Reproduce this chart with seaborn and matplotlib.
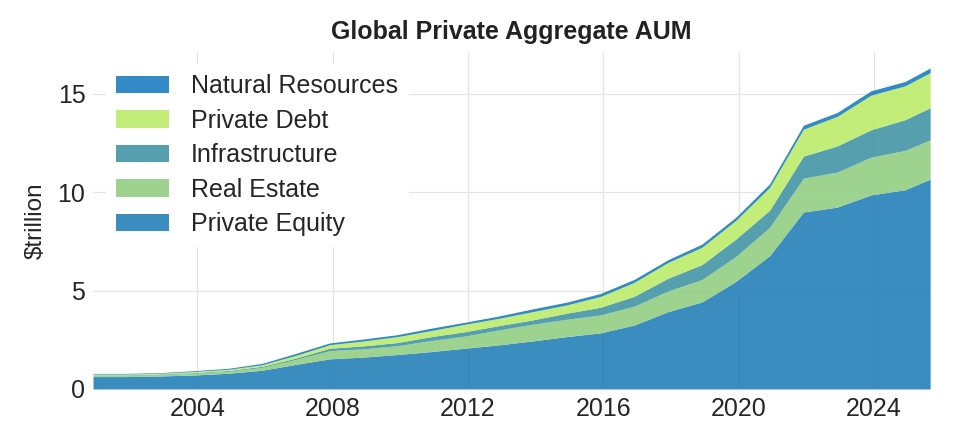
import pandas as pd
import seaborn as sns
import matplotlib.pyplot as plt
import matplotlib.dates as mdates

# year-end observations, last point is the latest (partial) year
years = list(range(2000, 2025))
last_date = "2025-08-31"

private_equity = [0.63, 0.63, 0.66, 0.71, 0.80, 0.95, 1.25, 1.53, 1.62, 1.75,
                  1.90, 2.07, 2.24, 2.44, 2.66, 2.85, 3.25, 3.93, 4.42, 5.46,
                  6.77, 8.99, 9.24, 9.86, 10.12, 10.66]
real_estate = [0.07, 0.07, 0.07, 0.09, 0.10, 0.15, 0.25, 0.42, 0.42, 0.45,
               0.56, 0.62, 0.76, 0.85, 0.88, 0.91, 0.96, 1.05, 1.14, 1.27,
               1.44, 1.72, 1.78, 1.92, 2.00, 2.00]
infrastructure = [0.02, 0.02, 0.03, 0.03, 0.04, 0.05, 0.07, 0.12, 0.15, 0.16,
                  0.20, 0.22, 0.22, 0.22, 0.31, 0.39, 0.50, 0.65, 0.76, 0.88,
                  0.87, 1.12, 1.33, 1.39, 1.56, 1.63]
private_debt = [0.04, 0.04, 0.04, 0.06, 0.06, 0.08, 0.14, 0.18, 0.25, 0.30,
                0.31, 0.38, 0.37, 0.42, 0.42, 0.55, 0.71, 0.80, 0.88, 0.95,
                1.16, 1.37, 1.50, 1.76, 1.72, 1.78]
natural_resources = [0.03, 0.03, 0.03, 0.04, 0.05, 0.07, 0.10, 0.09, 0.10, 0.10,
                     0.12, 0.10, 0.12, 0.14, 0.14, 0.15, 0.15, 0.14, 0.16, 0.16,
                     0.18, 0.20, 0.20, 0.22, 0.22, 0.24]

labels = ["Private Equity", "Real Estate", "Infrastructure", "Private Debt", "Natural Resources"]
colors = ["#2580b8", "#92cf83", "#4395a7", "#bdec6b", "#1c7dc0"]

dates = pd.to_datetime([f"{y}-12-01" for y in years] + [last_date])
df = pd.DataFrame({
    "Private Equity": private_equity,
    "Real Estate": real_estate,
    "Infrastructure": infrastructure,
    "Private Debt": private_debt,
    "Natural Resources": natural_resources,
}, index=dates)

sns.set_theme(style="whitegrid")
plt.rcParams["font.family"] = ["Liberation Sans", "DejaVu Sans"]
plt.rcParams["grid.color"] = "#e4e4e4"
plt.rcParams["grid.linewidth"] = 0.9

fig, ax = plt.subplots(figsize=(9.54, 4.4), dpi=100)
fig.subplots_adjust(left=0.0975, right=0.975, bottom=0.116, top=0.882)

ax.stackplot(df.index, [df[c] for c in labels], labels=labels,
             colors=colors, alpha=0.9, linewidth=0)
ax.margins(x=0)
ax.set_ylim(0, None)

ax.xaxis.set_major_locator(mdates.YearLocator(4))
ax.xaxis.set_major_formatter(mdates.DateFormatter("%Y"))
ax.tick_params(axis="both", labelsize=18, colors="#262626", length=0, pad=5.5)
ax.set_yticks([0, 5, 10, 15])

ax.set_ylabel("$trillion", fontsize=17.5, color="#262626", labelpad=8)
ax.set_title("Global Private Aggregate AUM", fontsize=18, fontweight="bold",
             color="#222222", pad=9)
sns.despine(ax=ax, left=True, bottom=True)

handles, leg_labels = ax.get_legend_handles_labels()
leg = ax.legend(handles[::-1], leg_labels[::-1], loc="upper left", fontsize=18,
                handlelength=2.15, handletextpad=0.85, labelspacing=0.42,
                frameon=True, facecolor="white", edgecolor="white", framealpha=1)
for t in leg.get_texts():
    t.set_color("#262626")

fig.savefig("out.png", dpi=100)
